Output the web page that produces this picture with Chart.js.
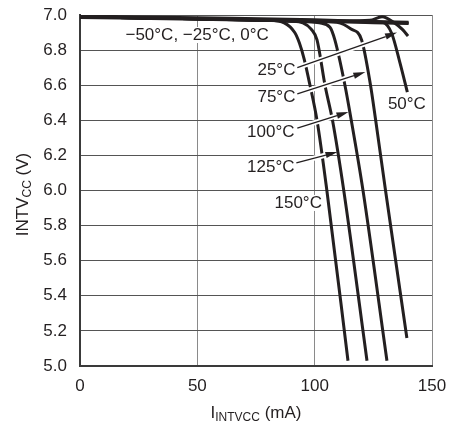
<!DOCTYPE html>
<html>
<head>
<meta charset="utf-8">
<script src="https://cdn.jsdelivr.net/npm/chart.js@4.4.1/dist/chart.umd.min.js"></script>
<style>
  html, body { margin: 0; padding: 0; background: #fff; }
  #chart { display: block; }
</style>
</head>
<body>
<canvas id="chart" width="465" height="425"></canvas>
<script>
// INTVCC vs load current at several temperatures
const xTicks = [0, 50, 100, 150];
const yTicks = [5.0, 5.2, 5.4, 5.6, 5.8, 6.0, 6.2, 6.4, 6.6, 6.8, 7.0];

// -50, -25, 0 °C never fold back inside the range
const iCold = [0, 50, 100, 125, 140];
const vM50 = [6.994, 6.984, 6.973, 6.963, 6.959];
const vM25 = [6.990, 6.980, 6.968, 6.960, 6.955];
const v0 = [6.986, 6.976, 6.964, 6.956, 6.951];

const i25 = [0, 50, 100, 123.5, 128.7, 134.2, 137.6, 139.8];
const v25 = [6.99, 6.978, 6.965, 6.97, 6.99, 6.953, 6.915, 6.88];

const i50 = [0, 50, 100, 125, 129.1, 132.8, 136.3, 139.5];
const v50 = [6.99, 6.978, 6.965, 6.962, 6.958, 6.896, 6.73, 6.56];

const i75 = [0, 50, 100, 109.5, 115.5, 120.0, 123.8, 126.0, 130.2, 139.3];
const v75 = [6.99, 6.978, 6.965, 6.958, 6.92, 6.858, 6.60, 6.40, 6.00, 5.16];

const i100 = [0, 50, 96, 102, 106.5, 108.6, 112.9, 115.6, 120.6, 130.8];
const v100 = [6.99, 6.978, 6.963, 6.955, 6.93, 6.858, 6.60, 6.40, 6.00, 5.03];

const i125 = [0, 50, 90, 95, 98.5, 101.0, 104.4, 107.6, 112.4, 122.3];
const v125 = [6.99, 6.978, 6.965, 6.955, 6.92, 6.858, 6.60, 6.40, 6.00, 5.03];

const i150 = [0, 50, 80, 87, 91.5, 93.5, 95.5, 98.0, 101.0, 105.2, 114.2];
const v150 = [6.99, 6.978, 6.97, 6.955, 6.90, 6.84, 6.75, 6.60, 6.40, 6.00, 5.03];

const ink = '#231f20';
const pts = (xs, ys) => xs.map((x, k) => ({ x: x, y: ys[k] }));

const curve = (label, xs, ys, w) => ({
  label: label,
  data: pts(xs, ys),
  borderColor: ink,
  borderWidth: w || 3,
  pointRadius: 0,
  fill: false,
  cubicInterpolationMode: 'monotone',
  borderJoinStyle: 'round'
});

// labels and arrows, placed in data units
const notes = [
  { text: '\u221250\u00b0C, \u221225\u00b0C, 0\u00b0C', x: 49.9, y: 6.886, align: 'center' },
  { text: '25\u00b0C', x: 91.8, y: 6.687, align: 'right', from: [92.6, 6.70], to: [135.1, 6.90] },
  { text: '75\u00b0C', x: 91.8, y: 6.533, align: 'right', from: [92.6, 6.55], to: [121.6, 6.675] },
  { text: '100\u00b0C', x: 91.4, y: 6.333, align: 'right', from: [92.6, 6.356], to: [114.4, 6.447] },
  { text: '125\u00b0C', x: 91.4, y: 6.134, align: 'right', from: [92.2, 6.157], to: [109.7, 6.22] },
  { text: '150\u00b0C', x: 103.1, y: 5.929, align: 'right' },
  { text: '50\u00b0C', x: 131.2, y: 6.493, align: 'left' }
];

const FONT = '"Liberation Sans", Arial, sans-serif';

function drawSubText(ctx, parts, cx, cy) {
  // parts: [text, isSubscript]
  const widths = parts.map(p => {
    ctx.font = (p[1] ? '12px ' : '17px ') + FONT;
    return ctx.measureText(p[0]).width;
  });
  let x = cx - widths.reduce((a, b) => a + b, 0) / 2;
  ctx.textAlign = 'left';
  ctx.textBaseline = 'middle';
  parts.forEach((p, k) => {
    ctx.font = (p[1] ? '12px ' : '17px ') + FONT;
    ctx.fillText(p[0], x, p[1] ? cy + 5 : cy);
    x += widths[k];
  });
}

const annotate = {
  id: 'annotate',
  afterDatasetsDraw(chart) {
    const { ctx, chartArea } = chart;
    const sx = chart.scales.x, sy = chart.scales.y;
    ctx.save();

    // arrows with a white knockout, like the datasheet
    notes.filter(n => n.from).forEach(n => {
      const x0 = sx.getPixelForValue(n.from[0]), y0 = sy.getPixelForValue(n.from[1]);
      const x1 = sx.getPixelForValue(n.to[0]), y1 = sy.getPixelForValue(n.to[1]);
      const ang = Math.atan2(y1 - y0, x1 - x0);
      const hl = 12, hw = 3.2;
      const bx = x1 - hl * Math.cos(ang), by = y1 - hl * Math.sin(ang);
      ctx.lineCap = 'butt';
      ctx.strokeStyle = '#fff';
      ctx.lineWidth = 5;
      ctx.beginPath();
      ctx.moveTo(x0 + 4 * Math.cos(ang), y0 + 4 * Math.sin(ang));
      ctx.lineTo(bx, by);
      ctx.stroke();
      ctx.strokeStyle = ink;
      ctx.lineWidth = 1.3;
      ctx.beginPath();
      ctx.moveTo(x0, y0);
      ctx.lineTo(bx, by);
      ctx.stroke();
      ctx.fillStyle = ink;
      ctx.beginPath();
      ctx.moveTo(x1, y1);
      ctx.lineTo(bx - hw * Math.sin(ang), by + hw * Math.cos(ang));
      ctx.lineTo(bx + hw * Math.sin(ang), by - hw * Math.cos(ang));
      ctx.closePath();
      ctx.fill();
    });

    // curve labels on a white patch
    ctx.font = '17px ' + FONT;
    ctx.textBaseline = 'middle';
    notes.forEach(n => {
      const px = sx.getPixelForValue(n.x), py = sy.getPixelForValue(n.y);
      const w = ctx.measureText(n.text).width;
      const left = n.align === 'right' ? px - w : n.align === 'center' ? px - w / 2 : px;
      ctx.fillStyle = '#fff';
      ctx.fillRect(left - 1, py - 8, w + 2, 16);
      ctx.fillStyle = ink;
      ctx.textAlign = n.align;
      ctx.fillText(n.text, px, py);
    });

    // axis titles with subscripts
    ctx.fillStyle = ink;
    drawSubText(ctx, [['I', false], ['INTVCC', true], [' (mA)', false]],
      (chartArea.left + chartArea.right) / 2, chartArea.bottom + 47);
    ctx.translate(23, (chartArea.top + chartArea.bottom) / 2 + 4);
    ctx.rotate(-Math.PI / 2);
    drawSubText(ctx, [['INTV', false], ['CC', true], [' (V)', false]], 0, 0);
    ctx.restore();
  }
};

Chart.defaults.font.family = FONT;
Chart.defaults.font.size = 17;
Chart.defaults.color = ink;

new Chart(document.getElementById('chart'), {
  type: 'line',
  data: {
    datasets: [
      curve('-50\u00b0C', iCold, vM50),
      curve('-25\u00b0C', iCold, vM25),
      curve('0\u00b0C', iCold, v0),
      curve('25\u00b0C', i25, v25),
      curve('50\u00b0C', i50, v50),
      curve('75\u00b0C', i75, v75),
      curve('100\u00b0C', i100, v100),
      curve('125\u00b0C', i125, v125),
      curve('150\u00b0C', i150, v150)
    ]
  },
  options: {
    responsive: false,
    animation: false,
    events: [],
    layout: { padding: { top: 15, right: 33, left: 0, bottom: 0 } },
    plugins: { legend: { display: false }, tooltip: { enabled: false } },
    scales: {
      x: {
        type: 'linear',
        min: 0,
        max: 150,
        afterBuildTicks: s => { s.ticks = xTicks.map(v => ({ value: v })); },
        afterFit: s => { s.height = 59; s.paddingLeft = 0; s.paddingRight = 0; },
        ticks: { padding: 10, maxRotation: 0, font: { size: 17 } },
        grid: { color: '#8a8a8a', lineWidth: 1, drawTicks: false },
        border: { color: '#3a3a3a', width: 2 }
      },
      y: {
        type: 'linear',
        min: 5,
        max: 7,
        afterBuildTicks: s => { s.ticks = yTicks.map(v => ({ value: v })); },
        afterFit: s => { s.width = 80; s.paddingTop = 0; s.paddingBottom = 0; },
        ticks: { padding: 13, font: { size: 17 }, callback: v => v.toFixed(1) },
        grid: { color: '#555', lineWidth: 1, drawTicks: false },
        border: { color: '#3a3a3a', width: 2 }
      }
    }
  },
  plugins: [annotate]
});
</script>
</body>
</html>
